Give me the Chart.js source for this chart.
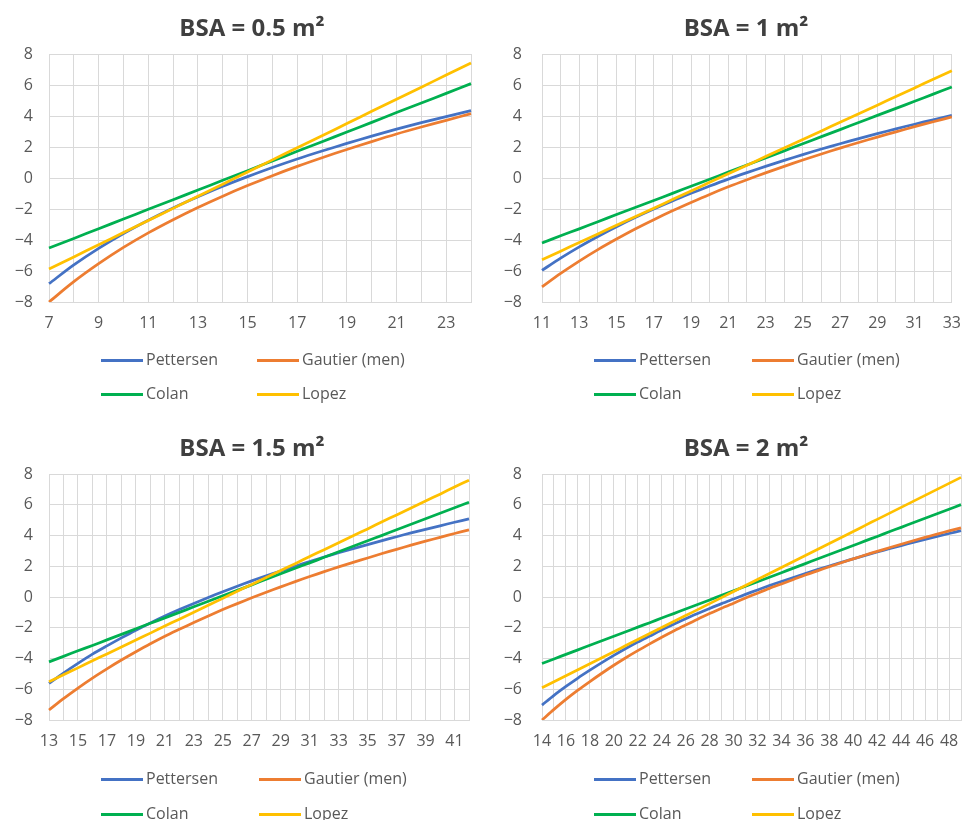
<!DOCTYPE html>
<html>
<head>
<meta charset="utf-8">
<script src="https://cdn.jsdelivr.net/npm/chart.js@4.4.1/dist/chart.umd.min.js"></script>
<style>
    body { margin: 0; width: 973px; height: 820px; overflow: hidden; background: #fff; position: relative; font-family: "Open Sans", sans-serif; }
    canvas { position: absolute; }
    .title { position: absolute; font-weight: 700; font-size: 24px; color: #404040; transform: translate(-50%, -50%); white-space: nowrap; }
    .leg { position: absolute; font-size: 16px; color: #595959; transform: translateY(-50%); white-space: nowrap; line-height: 20px; }
    .leg i { display: inline-block; width: 42px; border-top: 3px solid; vertical-align: middle; margin-right: 3px; }
</style>
</head>
<body>
<canvas id="c1" width="483" height="410" style="left:0;top:0"></canvas>
<canvas id="c2" width="490" height="410" style="left:483px;top:0"></canvas>
<canvas id="c3" width="483" height="410" style="left:0;top:410px"></canvas>
<canvas id="c4" width="490" height="410" style="left:483px;top:410px"></canvas>

<script>
// Данные (z-score по диаметру), по одной панели на каждую BSA
const seriesNames = ['Pettersen', 'Gautier (men)', 'Colan', 'Lopez'];
const seriesColors = ['#4472C4', '#ED7D31', '#00B050', '#FFC000'];

// BSA = 0.5 m²
const xBsa05 = [7, 8, 9, 10, 11, 12, 13, 14, 15, 16, 17, 18, 19, 20, 21, 22, 23, 24];
const pettersenBsa05 = [-6.82, -5.61, -4.54, -3.58, -2.72, -1.93, -1.21, -0.53, 0.09, 0.68, 1.23, 1.74, 2.23, 2.70, 3.15, 3.57, 3.96, 4.35];
const gautierBsa05 = [-8.00, -6.69, -5.53, -4.48, -3.54, -2.69, -1.90, -1.17, -0.49, 0.15, 0.75, 1.31, 1.84, 2.35, 2.84, 3.29, 3.72, 4.15];
const colanBsa05 = [-4.52, -3.90, -3.27, -2.65, -2.02, -1.40, -0.78, -0.15, 0.47, 1.10, 1.72, 2.34, 2.97, 3.59, 4.22, 4.84, 5.46, 6.09];
const lopezBsa05 = [-5.87, -5.09, -4.31, -3.52, -2.74, -1.96, -1.18, -0.40, 0.39, 1.17, 1.95, 2.73, 3.51, 4.30, 5.08, 5.86, 6.64, 7.42];

// BSA = 1 m²
const xBsa1 = [11, 12, 13, 14, 15, 16, 17, 18, 19, 20, 21, 22, 23, 24, 25, 26, 27, 28, 29, 30, 31, 32, 33];
const pettersenBsa1 = [-5.96, -5.17, -4.44, -3.77, -3.14, -2.55, -2.00, -1.48, -0.99, -0.52, -0.07, 0.35, 0.75, 1.14, 1.51, 1.87, 2.21, 2.54, 2.86, 3.17, 3.47, 3.76, 4.04];
const gautierBsa1 = [-7.03, -6.16, -5.36, -4.62, -3.94, -3.29, -2.69, -2.12, -1.58, -1.06, -0.57, -0.11, 0.33, 0.75, 1.16, 1.55, 1.93, 2.29, 2.64, 2.98, 3.31, 3.63, 3.94];
const colanBsa1 = [-4.19, -3.73, -3.28, -2.82, -2.36, -1.90, -1.45, -0.99, -0.53, -0.08, 0.38, 0.84, 1.29, 1.75, 2.21, 2.67, 3.12, 3.58, 4.04, 4.49, 4.95, 5.41, 5.87];
const lopezBsa1 = [-5.27, -4.72, -4.16, -3.61, -3.05, -2.50, -1.95, -1.39, -0.84, -0.28, 0.27, 0.82, 1.38, 1.93, 2.49, 3.04, 3.60, 4.15, 4.70, 5.26, 5.81, 6.37, 6.92];

// BSA = 1.5 m²
const xBsa15 = [13, 14, 15, 16, 17, 18, 19, 20, 21, 22, 23, 24, 25, 26, 27, 28, 29, 30, 31, 32, 33, 34, 35, 36, 37, 38, 39, 40, 41, 42];
const pettersenBsa15 = [-5.62, -4.95, -4.32, -3.72, -3.18, -2.66, -2.16, -1.69, -1.24, -0.82, -0.42, -0.03, 0.34, 0.70, 1.05, 1.38, 1.69, 2.00, 2.31, 2.60, 2.88, 3.14, 3.41, 3.67, 3.92, 4.17, 4.40, 4.63, 4.86, 5.08];
const gautierBsa15 = [-7.35, -6.61, -5.92, -5.27, -4.67, -4.10, -3.56, -3.04, -2.55, -2.10, -1.66, -1.23, -0.82, -0.43, -0.05, 0.31, 0.66, 1.00, 1.33, 1.65, 1.96, 2.25, 2.54, 2.83, 3.10, 3.37, 3.63, 3.88, 4.13, 4.37];
const colanBsa15 = [-4.22, -3.86, -3.50, -3.15, -2.79, -2.43, -2.07, -1.71, -1.36, -1.00, -0.64, -0.28, 0.08, 0.43, 0.79, 1.15, 1.51, 1.87, 2.22, 2.58, 2.94, 3.30, 3.66, 4.01, 4.37, 4.73, 5.09, 5.45, 5.80, 6.16];
const lopezBsa15 = [-5.51, -5.06, -4.61, -4.15, -3.70, -3.25, -2.80, -2.35, -1.89, -1.44, -0.99, -0.54, -0.09, 0.37, 0.82, 1.27, 1.72, 2.17, 2.63, 3.08, 3.53, 3.98, 4.43, 4.89, 5.34, 5.79, 6.24, 6.69, 7.15, 7.60];

// BSA = 2 m²
const xBsa2 = [14, 15, 16, 17, 18, 19, 20, 21, 22, 23, 24, 25, 26, 27, 28, 29, 30, 31, 32, 33, 34, 35, 36, 37, 38, 39, 40, 41, 42, 43, 44, 45, 46, 47, 48, 49];
const pettersenBsa2 = [-7.03, -6.40, -5.82, -5.27, -4.76, -4.27, -3.80, -3.35, -2.93, -2.54, -2.15, -1.78, -1.42, -1.08, -0.75, -0.43, -0.13, 0.17, 0.46, 0.74, 1.01, 1.27, 1.53, 1.78, 2.02, 2.26, 2.48, 2.71, 2.93, 3.14, 3.34, 3.55, 3.75, 3.94, 4.13, 4.32];
const gautierBsa2 = [-8.00, -7.31, -6.66, -6.06, -5.50, -4.96, -4.44, -3.95, -3.49, -3.05, -2.62, -2.21, -1.82, -1.44, -1.08, -0.73, -0.40, -0.07, 0.25, 0.56, 0.85, 1.14, 1.43, 1.70, 1.97, 2.23, 2.48, 2.73, 2.97, 3.20, 3.43, 3.66, 3.88, 4.09, 4.30, 4.50];
const colanBsa2 = [-4.32, -4.03, -3.73, -3.44, -3.14, -2.85, -2.55, -2.26, -1.96, -1.67, -1.37, -1.08, -0.78, -0.49, -0.19, 0.11, 0.40, 0.70, 0.99, 1.29, 1.58, 1.88, 2.17, 2.47, 2.76, 3.06, 3.35, 3.65, 3.94, 4.24, 4.53, 4.83, 5.12, 5.42, 5.71, 6.01];
const lopezBsa2 = [-5.90, -5.51, -5.12, -4.73, -4.34, -3.95, -3.56, -3.16, -2.77, -2.38, -1.99, -1.60, -1.21, -0.82, -0.43, -0.04, 0.36, 0.75, 1.14, 1.53, 1.92, 2.31, 2.70, 3.09, 3.48, 3.87, 4.26, 4.66, 5.05, 5.44, 5.83, 6.22, 6.61, 7.00, 7.39, 7.78];

const panels = [
    { id: 'c1', title: 'BSA = 0.5 m²', labels: xBsa05, data: [pettersenBsa05, gautierBsa05, colanBsa05, lopezBsa05],
      titleX: 252, titleY: 26, yWidth: 49, gap: 16, pad: { top: 54, right: 12, bottom: 68, left: 0 },
      legX: [101, 257], legY: [359, 393] },
    { id: 'c2', title: 'BSA = 1 m²', labels: xBsa1, data: [pettersenBsa1, gautierBsa1, colanBsa1, lopezBsa1],
      titleX: 746, titleY: 26, yWidth: 59, gap: 20, pad: { top: 54, right: 10, bottom: 68, left: 0 },
      legX: [594, 752], legY: [359, 393] },
    { id: 'c3', title: 'BSA = 1.5 m²', labels: xBsa15, data: [pettersenBsa15, gautierBsa15, colanBsa15, lopezBsa15],
      titleX: 252, titleY: 446, yWidth: 49, gap: 16, pad: { top: 64, right: 14, bottom: 60, left: 0 },
      legX: [101, 259], legY: [778, 813] },
    { id: 'c4', title: 'BSA = 2 m²', labels: xBsa2, data: [pettersenBsa2, gautierBsa2, colanBsa2, lopezBsa2],
      titleX: 746, titleY: 446, yWidth: 59, gap: 20, pad: { top: 64, right: 11, bottom: 60, left: 0 },
      legX: [594, 752], legY: [778, 813] }
];

const gridColor = '#d9d9d9';
const tickFont = { family: '"Open Sans", sans-serif', size: 16 };

panels.forEach(p => {
    const title = document.createElement('div');
    title.className = 'title';
    title.style.left = p.titleX + 'px';
    title.style.top = p.titleY + 'px';
    title.textContent = p.title;
    document.body.appendChild(title);

    // Легенда: две колонки, две строки
    seriesNames.forEach((name, i) => {
        const leg = document.createElement('div');
        leg.className = 'leg';
        leg.style.left = p.legX[i % 2] + 'px';
        leg.style.top = p.legY[Math.floor(i / 2)] + 'px';
        leg.innerHTML = `<i style="border-color:${seriesColors[i]}"></i>${name}`;
        document.body.appendChild(leg);
    });

    new Chart(document.getElementById(p.id), {
        type: 'line',
        data: {
            labels: p.labels,
            datasets: p.data.map((values, i) => ({
                label: seriesNames[i],
                data: values,
                borderColor: seriesColors[i],
                backgroundColor: seriesColors[i],
                borderWidth: 2.75,
                pointRadius: 0,
                tension: 0.3,
                order: 4 - i
            }))
        },
        options: {
            responsive: false,
            animation: false,
            layout: { padding: p.pad },
            plugins: { legend: { display: false }, title: { display: false }, tooltip: { enabled: false } },
            scales: {
                x: {
                    grid: { color: gridColor, drawTicks: false },
                    border: { color: gridColor },
                    ticks: {
                        autoSkip: false, maxRotation: 0, padding: 12, color: '#595959', font: tickFont,
                        callback: (v, i) => i % 2 === 0 ? p.labels[i] : ''
                    },
                    afterFit: s => { s.height = 40; }
                },
                y: {
                    min: -8, max: 8,
                    grid: { color: gridColor, drawTicks: false },
                    border: { color: gridColor },
                    ticks: {
                        stepSize: 2, padding: p.gap, color: '#595959', font: tickFont,
                        callback: v => v < 0 ? '\u2212' + Math.abs(v) : String(v)
                    },
                    afterFit: s => { s.width = p.yWidth; }
                }
            }
        }
    });
});
</script>
</body>
</html>
